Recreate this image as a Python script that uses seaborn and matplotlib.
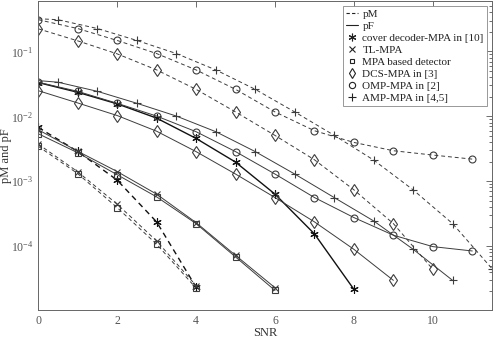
import numpy as np
import pandas as pd
import matplotlib
matplotlib.use("Agg")
import matplotlib.pyplot as plt
from matplotlib.lines import Line2D
from matplotlib.ticker import LogLocator, NullFormatter, FixedLocator
import seaborn as sns

# ---------------- data ----------------
# cover decoder-MPA in [10]
cover_snr_pM = [0, 1, 2, 3, 4]
cover_pM = [0.00676, 0.00288, 0.00104, 0.000236, 2.33e-5]
cover_snr_pF = [0, 1, 2, 3, 4, 5, 6, 7, 8]
cover_pF = [0.0332, 0.0235, 0.0156, 0.0094, 0.00457, 0.00197, 0.000632, 0.000154, 2.15e-5]

# TL-MPA
tl_snr_pM = [0, 1, 2, 3, 4]
tl_pM = [0.00374, 0.0014, 0.000443, 0.00012, 2.46e-5]
tl_snr_pF = [0, 1, 2, 3, 4, 5, 6]
tl_pF = [0.00622, 0.0029, 0.00141, 0.000632, 0.00023, 7.2e-5, 2.28e-5]

# MPA based detector
mpa_snr_pM = [0, 1, 2, 3, 4]
mpa_pM = [0.00346, 0.00131, 0.000392, 0.000107, 2.25e-5]
mpa_snr_pF = [0, 1, 2, 3, 4, 5, 6]
mpa_pF = [0.0054, 0.00275, 0.00126, 0.000574, 0.000222, 6.8e-5, 2.07e-5]

# DCS-MPA in [3]
dcs_snr_pM = [0, 1, 2, 3, 4, 5, 6, 7, 8, 9, 10]
dcs_pM = [0.224, 0.146, 0.092, 0.052, 0.0261, 0.0117, 0.00508, 0.00214, 0.000736, 0.000222, 4.38e-5]
dcs_snr_pF = [0, 1, 2, 3, 4, 5, 6, 7, 8, 9]
dcs_pF = [0.0249, 0.0161, 0.0103, 0.0059, 0.00286, 0.00129, 0.00056, 0.000236, 8.9e-5, 2.96e-5]

# OMP-MPA in [2]
omp_snr_pM = [0, 1, 2, 3, 4, 5, 6, 7, 8, 9, 10, 11]
omp_pM = [0.309, 0.226, 0.148, 0.093, 0.052, 0.0261, 0.0117, 0.0060, 0.00396, 0.00295, 0.00253, 0.00219]
omp_snr_pF = [0, 1, 2, 3, 4, 5, 6, 7, 8, 9, 10, 11]
omp_pF = [0.0336, 0.0243, 0.0159, 0.0101, 0.0058, 0.00286, 0.00129, 0.00056, 0.000275, 0.000147, 9.8e-5, 8.4e-5]

# AMP-MPA in [4,5]
amp_snr_pM = [0, 0.5, 1.5, 2.5, 3.5, 4.5, 5.5, 6.5, 7.5, 8.5, 9.5, 10.5, 11.5]
amp_pM = [0.32, 0.309, 0.226, 0.148, 0.093, 0.052, 0.0261, 0.0117, 0.0051, 0.00212, 0.000736, 0.000222, 4.48e-5]
amp_snr_pF = [0, 0.5, 1.5, 2.5, 3.5, 4.5, 5.5, 6.5, 7.5, 8.5, 9.5, 10.5]
amp_pF = [0.0356, 0.0336, 0.0243, 0.0159, 0.0101, 0.0058, 0.00286, 0.00129, 0.00056, 0.000244, 8.93e-5, 2.96e-5]

x_ticks = [0, 2, 4, 6, 8, 10]
legend_labels = ["pM", "pF", "cover decoder-MPA in [10]", "TL-MPA", "MPA based detector",
                 "DCS-MPA in [3]", "OMP-MPA in [2]", "AMP-MPA in [4,5]"]

# ---------------- style ----------------
sns.set_style("white")
plt.rcParams["font.family"] = ["Liberation Serif", "DejaVu Serif"]
plt.rcParams["mathtext.fontset"] = "custom"
plt.rcParams["mathtext.rm"] = "Liberation Serif"
plt.rcParams["mathtext.it"] = "Liberation Serif:italic"

fig = plt.figure(figsize=(4.96, 3.40), dpi=100)
ax = fig.add_axes([0.077, 0.088, 0.915, 0.909])

GRAY = "#3c3c3c"
ASTER = (6, 2, 0)

series = [
    (cover_snr_pM, cover_pM, ASTER, "--", "#111111", 1.0, None),
    (cover_snr_pF, cover_pF, ASTER, "-", "#111111", 1.0, None),
    (tl_snr_pM, tl_pM, "x", "--", GRAY, 0.7, None),
    (tl_snr_pF, tl_pF, "x", "-", GRAY, 0.7, None),
    (mpa_snr_pM, mpa_pM, "s", "--", GRAY, 0.7, None),
    (mpa_snr_pF, mpa_pF, "s", "-", GRAY, 0.7, None),
    (dcs_snr_pM, dcs_pM, "d", "--", GRAY, 0.7, None),
    (dcs_snr_pF, dcs_pF, "d", "-", GRAY, 0.7, None),
    (omp_snr_pM, omp_pM, "o", "--", GRAY, 0.7, None),
    (omp_snr_pF, omp_pF, "o", "-", GRAY, 0.7, None),
    (amp_snr_pM, amp_pM, "+", "--", GRAY, 0.7, slice(1, None)),
    (amp_snr_pF, amp_pF, "+", "-", GRAY, 0.7, slice(1, None)),
]

msizes = {"o": 5, "s": 4, "d": 6, "x": 5, "+": 6, ASTER: 6}
for xs, ys, mk, ls, col, lw, me in series:
    df = pd.DataFrame({"SNR": xs, "p": ys})
    kw = dict(markevery=me) if me is not None else {}
    sns.lineplot(data=df, x="SNR", y="p", ax=ax, color=col, linewidth=lw,
                 marker=mk, markersize=msizes[mk],
                 markerfacecolor="none", markeredgecolor=col, markeredgewidth=0.8,
                 **kw)
    ln = ax.lines[-1]
    if ls == "--":
        ln.set_linestyle((0, (4, 3)))
    else:
        ln.set_linestyle("-")

ax.set_yscale("log")
ax.set_xlim(0, 11.5)
ax.set_ylim(1.03e-5, 0.6)
ax.xaxis.set_major_locator(FixedLocator(x_ticks))
ax.yaxis.set_major_locator(LogLocator(base=10, numticks=10))
ax.yaxis.set_minor_locator(LogLocator(base=10, subs=np.arange(2, 10), numticks=20))
ax.yaxis.set_minor_formatter(NullFormatter())

tick_col = "#555555"
ax.tick_params(axis="both", which="both", direction="in", top=True, right=True,
               colors=tick_col, labelsize=8.5, width=0.6)
ax.tick_params(axis="both", which="major", length=4)
ax.tick_params(axis="y", which="minor", length=2)
for s in ax.spines.values():
    s.set_color("#666666")
    s.set_linewidth(0.7)

ax.set_xlabel("SNR", fontsize=9, color="#333333", labelpad=0)
ax.set_ylabel("pM and pF", fontsize=9, color="#333333", labelpad=-1)

handles = [
    Line2D([], [], color="#222222", lw=0.8, linestyle=(0, (3, 2))),
    Line2D([], [], color="#222222", lw=0.8, linestyle="-"),
]
for mk in [ASTER, "x", "s", "d", "o", "+"]:
    handles.append(Line2D([], [], color="#222222", linestyle="none", marker=mk,
                          markersize=msizes[mk] - 0.5, markerfacecolor="none",
                          markeredgewidth=0.8))
leg = ax.legend(handles, legend_labels, loc="upper right", fontsize=8,
                frameon=True, fancybox=False, handlelength=1.1, handletextpad=0.35,
                labelspacing=0.2, borderpad=0.3, borderaxespad=0.45, framealpha=1)
leg.get_frame().set_edgecolor("#888888")
leg.get_frame().set_linewidth(0.6)
for t in leg.get_texts():
    t.set_color("#222222")

fig.savefig("out.png", dpi=100)
